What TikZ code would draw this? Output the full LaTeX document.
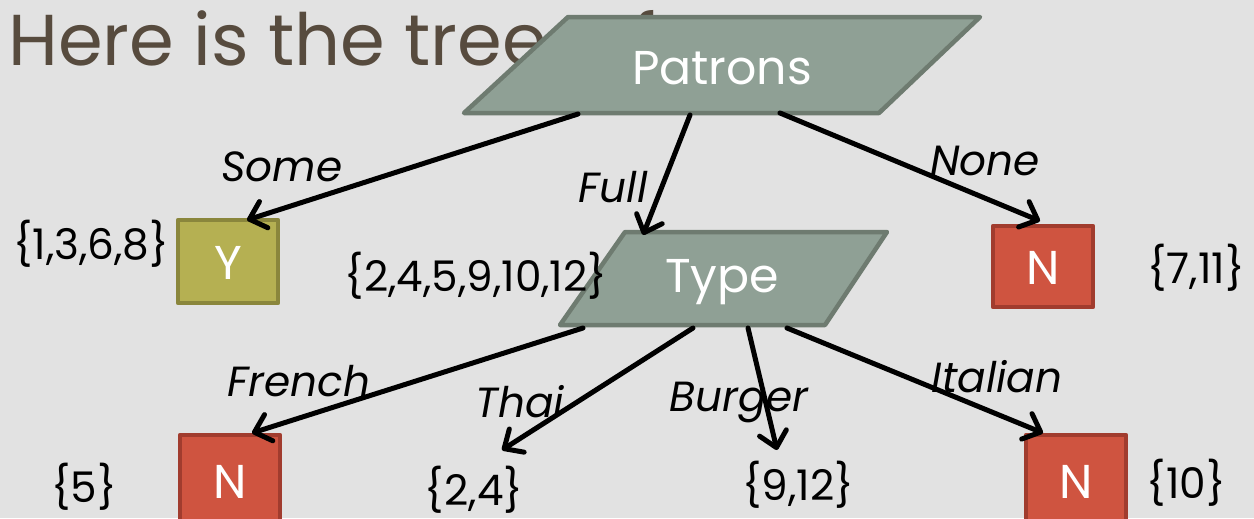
\documentclass[tikz,border=0pt]{standalone}
\usepackage{fontspec}
\setmainfont{Poppins}
\usetikzlibrary{arrows.meta}
\definecolor{bg}{HTML}{E2E2E2}
\definecolor{titlec}{HTML}{574B3E}
\definecolor{parfill}{HTML}{8FA095}
\definecolor{pardraw}{HTML}{6E7B70}
\definecolor{yfill}{HTML}{B5B052}
\definecolor{ydraw}{HTML}{8A863C}
\definecolor{nfill}{HTML}{CF5440}
\definecolor{ndraw}{HTML}{A13C2E}
\tikzset{
  parshape/.style={fill=parfill,draw=pardraw,line width=0.09cm,line join=round},
  ybox/.style={fill=yfill,draw=ydraw,line width=0.09cm,line join=round},
  nbox/.style={fill=nfill,draw=ndraw,line width=0.09cm,line join=round},
  inner/.style={text=white,font=\fontsize{27}{30}\selectfont,inner sep=0pt},
  settext/.style={font=\fontsize{24}{28}\selectfont,inner sep=0pt,text=black},
  edgelabel/.style={font=\fontsize{24}{28}\selectfont\itshape,inner sep=0pt,text=black},
  branch/.style={line width=0.1cm,draw=black,line cap=round,
    -{Straight Barb[length=0.3cm,width=0.55cm,line cap=round,line join=round]}}
}
\begin{document}
\begin{tikzpicture}[x=0.02cm,y=-0.02cm]
\fill[bg] (0,0) rectangle (1254,518);
\useasboundingbox (0,0) rectangle (1254,518);
% title
\node[anchor=base west,inner sep=0pt,text=titlec,font=\fontsize{41}{46}\selectfont] (title) at (8,65) {Here is the tree\hspace{0.8cm}of};
% Patrons
\filldraw[parshape] (568,17) -- (980,17) -- (879,113) -- (464,113) -- cycle;
\node[inner,font=\fontsize{27}{30}\selectfont] (patrons) at (722,68) {Patrons};
% Type
\filldraw[parshape] (625,232) -- (887,232) -- (825,325) -- (560,325) -- cycle;
\node[inner,font=\fontsize{27}{30}\selectfont] (type) at (722,282) {Type};
% leaves
\filldraw[ybox] (178,220) rectangle (278,303);
\node[inner] (y) at (228,263) {Y};
\filldraw[nbox] (993,226) rectangle (1093,307);
\node[inner] (n1) at (1043,268) {N};
\filldraw[nbox] (180,435) rectangle (280,540);
\node[inner] (n2) at (230,482) {N};
\filldraw[nbox] (1026,435) rectangle (1126,540);
\node[inner] (n3) at (1076,482) {N};
% sets
\node[settext] (s1) at (91,244) {\{1,3,6,8\}};
\node[settext] (s2) at (476,276) {\{2,4,5,9,10,12\}};
\node[settext] (s3) at (1196,268) {\{7,11\}};
\node[settext] (s4) at (84,487) {\{5\}};
\node[settext] (s5) at (474,490) {\{2,4\}};
\node[settext] (s6) at (798,485) {\{9,12\}};
\node[settext] (s7) at (1186,483) {\{10\}};
% connector coordinates
\coordinate (pa) at (578,114);
\coordinate (pb) at (690,115);
\coordinate (pc) at (780,113);
\coordinate (ya) at (247,220);
\coordinate (ta) at (643,235);
\coordinate (na) at (1040,221);
\coordinate (tb1) at (583,328);
\coordinate (tb2) at (693,328);
\coordinate (tb3) at (748,328);
\coordinate (tb4) at (787,328);
\coordinate (fa) at (252,433);
\coordinate (tha) at (502,450);
\coordinate (bua) at (777,450);
\coordinate (ia) at (1043,433);
% connectors
\draw[branch] (pa) -- (ya);
\draw[branch] (pb) -- (ta);
\draw[branch] (pc) -- (na);
\draw[branch] (tb1) -- (fa);
\draw[branch] (tb2) -- (tha);
\draw[branch] (tb3) -- (bua);
\draw[branch] (tb4) -- (ia);
% edge labels
\node[edgelabel] (lsome) at (282,167) {Some};
\node[edgelabel] (lfull) at (613,187) {Full};
\node[edgelabel] (lnone) at (985,161) {None};
\node[edgelabel] (lfrench) at (299,381) {French};
\node[edgelabel] (lthai) at (520,402) {Thai};
\node[edgelabel] (lburger) at (739,402) {Burger};
\node[edgelabel] (litalian) at (997,377) {Italian};
\end{tikzpicture}
\end{document}
